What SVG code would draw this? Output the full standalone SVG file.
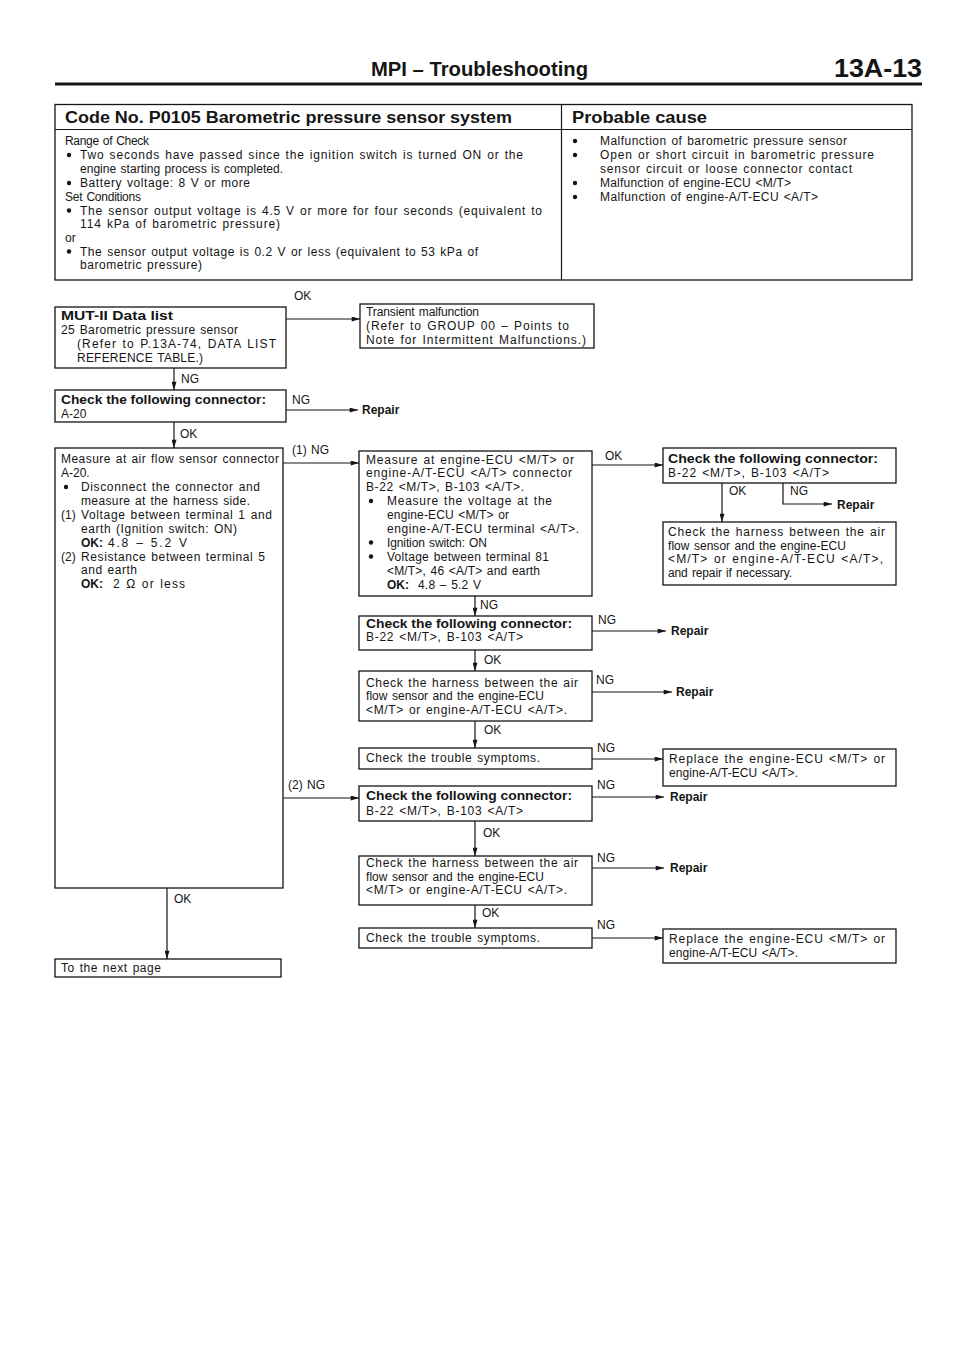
<svg xmlns="http://www.w3.org/2000/svg" width="960" height="1358" viewBox="0 0 960 1358">
<style>
text { font-family: "Liberation Sans", Arial, Helvetica, sans-serif; fill: #151515; }
.t { font-size: 12px; word-spacing: 1px; }
.tb { font-size: 12px; font-weight: bold; }
.h { font-size: 16px; font-weight: bold; }
.box { fill: #fff; stroke: #151515; stroke-width: 1.3; }
.c { fill: none; stroke: #151515; stroke-width: 1.2; }
.bul { fill: #151515; }
</style>
<defs>
<marker id="ah" viewBox="0 0 10 6" refX="10" refY="3" markerWidth="9" markerHeight="5" orient="auto" markerUnits="userSpaceOnUse">
<path d="M0,0 L10,3 L0,6 z" fill="#151515"/>
</marker>
</defs>
<rect x="0" y="0" width="960" height="1358" fill="#fff"/>

<g id="header">
<text x="371" y="76" style="font-size:20px;font-weight:bold" textLength="217" lengthAdjust="spacingAndGlyphs">MPI – Troubleshooting</text>
<text x="834" y="77" style="font-size:25px;font-weight:bold" textLength="88" lengthAdjust="spacingAndGlyphs">13A-13</text>
<line x1="55" y1="84" x2="922" y2="84" stroke="#151515" stroke-width="3"/>
</g>

<g id="code-table">
<rect class="box" x="55" y="104.5" width="857" height="175.5"/>
<line class="c" x1="55" y1="129.5" x2="912" y2="129.5"/>
<line class="c" x1="561.5" y1="104.5" x2="561.5" y2="280"/>
<text class="h" x="65" y="123" textLength="447" lengthAdjust="spacingAndGlyphs">Code No. P0105 Barometric pressure sensor system</text>
<text class="h" x="572" y="123" textLength="135" lengthAdjust="spacingAndGlyphs">Probable cause</text>
<text class="t" x="65" y="145" textLength="84">Range of Check</text>
<circle class="bul" cx="69" cy="155" r="2.2"/>
<text class="t" x="80" y="159" textLength="443">Two seconds have passed since the ignition switch is turned ON or the</text>
<text class="t" x="80" y="173" textLength="203">engine starting process is completed.</text>
<circle class="bul" cx="69" cy="183" r="2.2"/>
<text class="t" x="80" y="187" textLength="170">Battery voltage: 8 V or more</text>
<text class="t" x="65" y="200.5" textLength="76">Set Conditions</text>
<circle class="bul" cx="69" cy="210.5" r="2.2"/>
<text class="t" x="80" y="214.5" textLength="462">The sensor output voltage is 4.5 V or more for four seconds (equivalent to</text>
<text class="t" x="80" y="228" textLength="200">114 kPa of barometric pressure)</text>
<text class="t" x="65" y="241.5">or</text>
<circle class="bul" cx="69" cy="251.5" r="2.2"/>
<text class="t" x="80" y="255.5" textLength="398">The sensor output voltage is 0.2 V or less (equivalent to 53 kPa of</text>
<text class="t" x="80" y="269" textLength="122">barometric pressure)</text>
<circle class="bul" cx="575" cy="141" r="2.2"/>
<text class="t" x="600" y="145" textLength="247">Malfunction of barometric pressure sensor</text>
<circle class="bul" cx="575" cy="155" r="2.2"/>
<text class="t" x="600" y="159" textLength="274">Open or short circuit in barometric pressure</text>
<text class="t" x="600" y="173" textLength="252">sensor circuit or loose connector contact</text>
<circle class="bul" cx="575" cy="183" r="2.2"/>
<text class="t" x="600" y="187" textLength="191">Malfunction of engine-ECU &lt;M/T&gt;</text>
<circle class="bul" cx="575" cy="197" r="2.2"/>
<text class="t" x="600" y="201" textLength="218">Malfunction of engine-A/T-ECU &lt;A/T&gt;</text>
</g>

<g id="connectors">
<path class="c" d="M286,319 H360" marker-end="url(#ah)"/>
<text class="t" x="294" y="300">OK</text>
<path class="c" d="M174,368 V390" marker-end="url(#ah)"/>
<text class="t" x="181" y="383">NG</text>
<path class="c" d="M286,410 H358" marker-end="url(#ah)"/>
<text class="t" x="292" y="404">NG</text>
<text class="tb" x="362" y="414">Repair</text>
<path class="c" d="M174,422 V448" marker-end="url(#ah)"/>
<text class="t" x="180" y="438">OK</text>
<path class="c" d="M283,463 H359" marker-end="url(#ah)"/>
<text class="t" x="292" y="454">(1) NG</text>
<path class="c" d="M592,465 H663" marker-end="url(#ah)"/>
<text class="t" x="605" y="460">OK</text>
<path class="c" d="M722,483 V522" marker-end="url(#ah)"/>
<text class="t" x="729" y="495">OK</text>
<path class="c" d="M783,483 V504 H832" marker-end="url(#ah)"/>
<text class="t" x="790" y="495">NG</text>
<text class="tb" x="837" y="508.5">Repair</text>
<path class="c" d="M475,596 V616" marker-end="url(#ah)"/>
<text class="t" x="480" y="609">NG</text>
<path class="c" d="M592,631 H666" marker-end="url(#ah)"/>
<text class="t" x="598" y="623.5">NG</text>
<text class="tb" x="671" y="635">Repair</text>
<path class="c" d="M475,650 V671" marker-end="url(#ah)"/>
<text class="t" x="484" y="664">OK</text>
<path class="c" d="M592,692 H672" marker-end="url(#ah)"/>
<text class="t" x="596" y="684">NG</text>
<text class="tb" x="676" y="696">Repair</text>
<path class="c" d="M475,721 V748" marker-end="url(#ah)"/>
<text class="t" x="484" y="734">OK</text>
<path class="c" d="M592,759 H663" marker-end="url(#ah)"/>
<text class="t" x="597" y="752">NG</text>
<path class="c" d="M283,798 H359" marker-end="url(#ah)"/>
<text class="t" x="288" y="789">(2) NG</text>
<path class="c" d="M592,797 H664" marker-end="url(#ah)"/>
<text class="t" x="597" y="789">NG</text>
<text class="tb" x="670" y="801">Repair</text>
<path class="c" d="M475,821 V856" marker-end="url(#ah)"/>
<text class="t" x="483" y="837">OK</text>
<path class="c" d="M592,868 H664" marker-end="url(#ah)"/>
<text class="t" x="597" y="862">NG</text>
<text class="tb" x="670" y="872">Repair</text>
<path class="c" d="M475,905 V928" marker-end="url(#ah)"/>
<text class="t" x="482" y="917">OK</text>
<path class="c" d="M592,938 H663" marker-end="url(#ah)"/>
<text class="t" x="597" y="929">NG</text>
<path class="c" d="M167,888 V959" marker-end="url(#ah)"/>
<text class="t" x="174" y="903">OK</text>
</g>

<g id="mut-data-list">
<rect class="box" x="55" y="307" width="231" height="61"/>
<text class="tb" x="61" y="320" textLength="112" lengthAdjust="spacingAndGlyphs">MUT-II Data list</text>
<text class="t" x="61" y="334" textLength="177">25 Barometric pressure sensor</text>
<text class="t" x="77" y="348" textLength="199">(Refer to P.13A-74, DATA LIST</text>
<text class="t" x="77" y="362" textLength="126">REFERENCE TABLE.)</text>
</g>

<g id="transient">
<rect class="box" x="360" y="304" width="234" height="44"/>
<text class="t" x="366" y="316" textLength="113">Transient malfunction</text>
<text class="t" x="366" y="330" textLength="203">(Refer to GROUP 00 – Points to</text>
<text class="t" x="366" y="344" textLength="220">Note for Intermittent Malfunctions.)</text>
</g>

<g id="check-a20">
<rect class="box" x="55" y="390" width="231" height="32"/>
<text class="tb" x="61" y="404" textLength="205" lengthAdjust="spacingAndGlyphs">Check the following connector:</text>
<text class="t" x="61" y="418">A-20</text>
</g>

<g id="measure-afs">
<rect class="box" x="55" y="448" width="228" height="440"/>
<text class="t" x="61" y="463" textLength="218">Measure at air flow sensor connector</text>
<text class="t" x="61" y="477">A-20.</text>
<circle class="bul" cx="66" cy="487" r="2.2"/>
<text class="t" x="81" y="491" textLength="179">Disconnect the connector and</text>
<text class="t" x="81" y="505" textLength="169">measure at the harness side.</text>
<text class="t" x="61" y="519">(1)</text>
<text class="t" x="81" y="519" textLength="191">Voltage between terminal 1 and</text>
<text class="t" x="81" y="532.5" textLength="156">earth (Ignition switch: ON)</text>
<text class="tb" x="81" y="546.5">OK:</text>
<text class="t" x="108" y="546.5" textLength="79">4.8 – 5.2 V</text>
<text class="t" x="61" y="560.5">(2)</text>
<text class="t" x="81" y="560.5" textLength="184">Resistance between terminal 5</text>
<text class="t" x="81" y="574" textLength="56">and earth</text>
<text class="tb" x="81" y="588">OK:</text>
<text class="t" x="113" y="588" textLength="72">2 Ω or less</text>
</g>

<g id="measure-ecu">
<rect class="box" x="359" y="451" width="233" height="145"/>
<text class="t" x="366" y="463.5" textLength="208">Measure at engine-ECU &lt;M/T&gt; or</text>
<text class="t" x="366" y="477" textLength="206">engine-A/T-ECU &lt;A/T&gt; connector</text>
<text class="t" x="366" y="491" textLength="158">B-22 &lt;M/T&gt;, B-103 &lt;A/T&gt;.</text>
<circle class="bul" cx="371" cy="501" r="2.2"/>
<text class="t" x="387" y="505" textLength="165">Measure the voltage at the</text>
<text class="t" x="387" y="518.5" textLength="122">engine-ECU &lt;M/T&gt; or</text>
<text class="t" x="387" y="532.5" textLength="192">engine-A/T-ECU terminal &lt;A/T&gt;.</text>
<circle class="bul" cx="371" cy="542.5" r="2.2"/>
<text class="t" x="387" y="546.5" textLength="100">Ignition switch: ON</text>
<circle class="bul" cx="371" cy="556.5" r="2.2"/>
<text class="t" x="387" y="560.5" textLength="162">Voltage between terminal 81</text>
<text class="t" x="387" y="574.5" textLength="153">&lt;M/T&gt;, 46 &lt;A/T&gt; and earth</text>
<text class="tb" x="387" y="588.5">OK:</text>
<text class="t" x="418" y="588.5" textLength="63">4.8 – 5.2 V</text>
</g>

<g id="check-b22-1">
<rect class="box" x="663" y="448" width="233" height="35"/>
<text class="tb" x="668" y="463" textLength="210" lengthAdjust="spacingAndGlyphs">Check the following connector:</text>
<text class="t" x="668" y="477" textLength="161">B-22 &lt;M/T&gt;, B-103 &lt;A/T&gt;</text>
</g>

<g id="harness-1">
<rect class="box" x="663" y="522" width="233" height="63"/>
<text class="t" x="668" y="536" textLength="217">Check the harness between the air</text>
<text class="t" x="668" y="549.5" textLength="178">flow sensor and the engine-ECU</text>
<text class="t" x="668" y="563" textLength="215">&lt;M/T&gt; or engine-A/T-ECU &lt;A/T&gt;,</text>
<text class="t" x="668" y="576.5" textLength="124">and repair if necessary.</text>
</g>

<g id="check-b22-2">
<rect class="box" x="359" y="616" width="233" height="34"/>
<text class="tb" x="366" y="627.5" textLength="206" lengthAdjust="spacingAndGlyphs">Check the following connector:</text>
<text class="t" x="366" y="641" textLength="157">B-22 &lt;M/T&gt;, B-103 &lt;A/T&gt;</text>
</g>

<g id="harness-2">
<rect class="box" x="359" y="671" width="233" height="50"/>
<text class="t" x="366" y="686.5" textLength="212">Check the harness between the air</text>
<text class="t" x="366" y="700" textLength="178">flow sensor and the engine-ECU</text>
<text class="t" x="366" y="713.5" textLength="201">&lt;M/T&gt; or engine-A/T-ECU &lt;A/T&gt;.</text>
</g>

<g id="symptoms-1">
<rect class="box" x="359" y="748" width="233" height="21"/>
<text class="t" x="366" y="762" textLength="174">Check the trouble symptoms.</text>
</g>

<g id="replace-1">
<rect class="box" x="663" y="749" width="233" height="37"/>
<text class="t" x="669" y="763" textLength="216">Replace the engine-ECU &lt;M/T&gt; or</text>
<text class="t" x="669" y="777" textLength="129">engine-A/T-ECU &lt;A/T&gt;.</text>
</g>

<g id="check-b22-3">
<rect class="box" x="359" y="786" width="233" height="35"/>
<text class="tb" x="366" y="800" textLength="206" lengthAdjust="spacingAndGlyphs">Check the following connector:</text>
<text class="t" x="366" y="814.5" textLength="157">B-22 &lt;M/T&gt;, B-103 &lt;A/T&gt;</text>
</g>

<g id="harness-3">
<rect class="box" x="359" y="856" width="233" height="49"/>
<text class="t" x="366" y="867" textLength="212">Check the harness between the air</text>
<text class="t" x="366" y="880.5" textLength="178">flow sensor and the engine-ECU</text>
<text class="t" x="366" y="894" textLength="201">&lt;M/T&gt; or engine-A/T-ECU &lt;A/T&gt;.</text>
</g>

<g id="symptoms-2">
<rect class="box" x="359" y="928" width="233" height="20"/>
<text class="t" x="366" y="941.5" textLength="174">Check the trouble symptoms.</text>
</g>

<g id="replace-2">
<rect class="box" x="663" y="929" width="233" height="34"/>
<text class="t" x="669" y="943" textLength="216">Replace the engine-ECU &lt;M/T&gt; or</text>
<text class="t" x="669" y="957" textLength="129">engine-A/T-ECU &lt;A/T&gt;.</text>
</g>

<g id="next-page">
<rect class="box" x="55" y="959" width="226" height="18"/>
<text class="t" x="61" y="972" textLength="100">To the next page</text>
</g>
</svg>
